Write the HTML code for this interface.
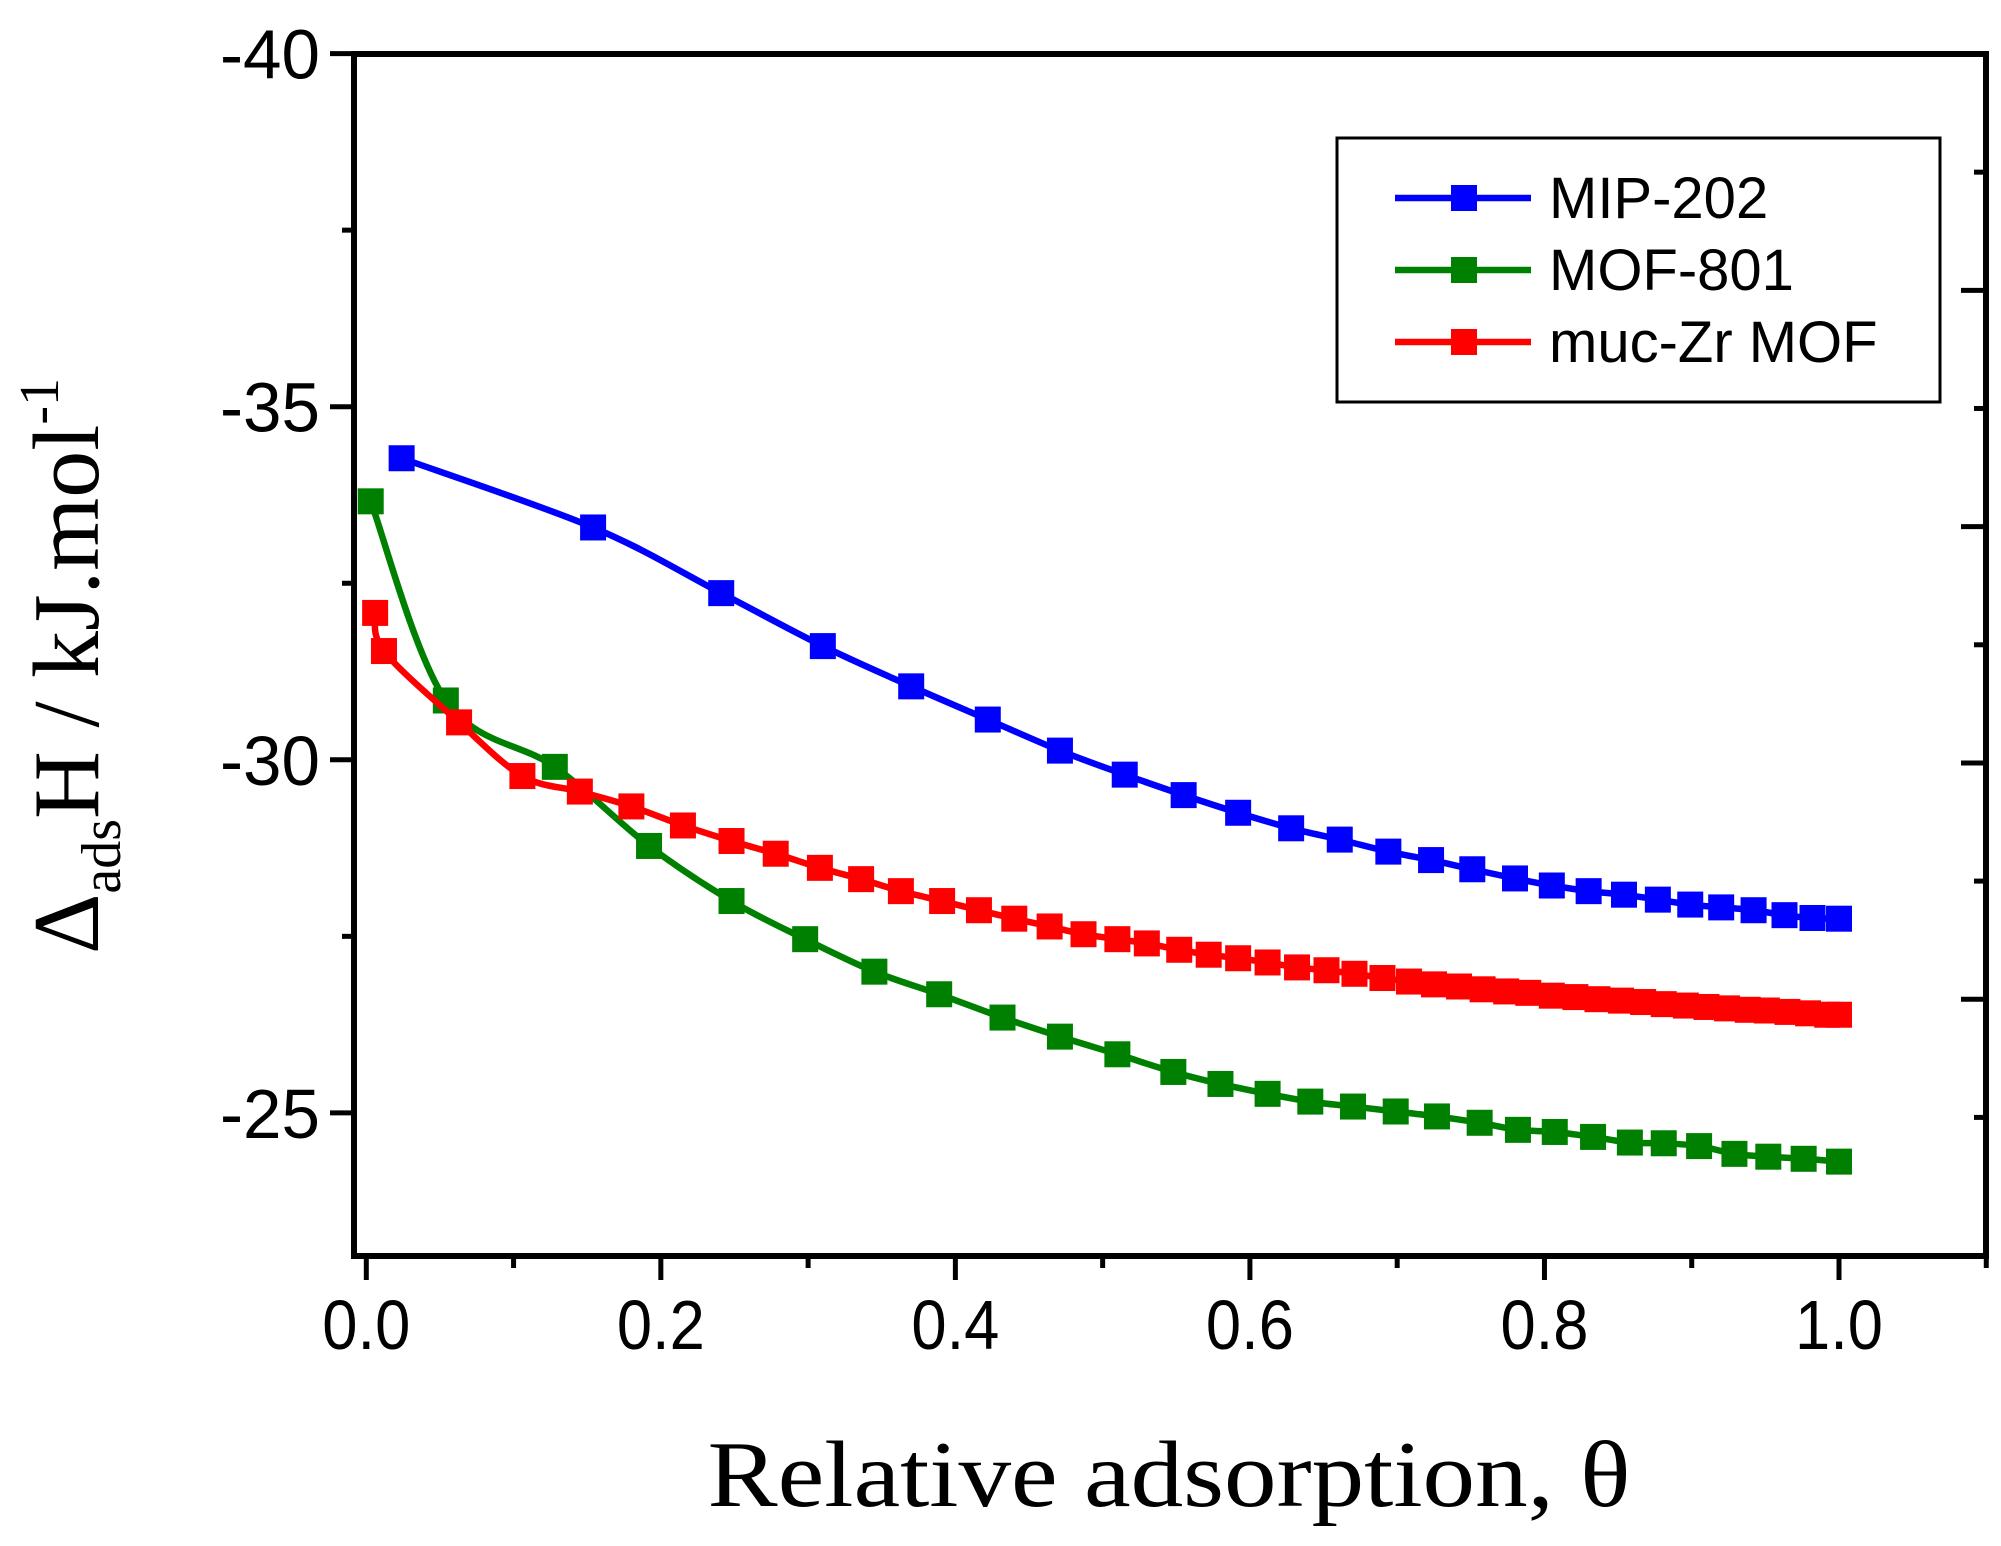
<!DOCTYPE html>
<html><head><meta charset="utf-8"><style>
html,body{margin:0;padding:0;background:#fff;}
svg{display:block;}
</style></head><body>
<svg id="chart" width="2001" height="1546" viewBox="0 0 2001 1546" xmlns="http://www.w3.org/2000/svg"></svg>
<script>
const mipX=[0.024,0.154,0.241,0.310,0.370,0.422,0.471,0.515,0.555,0.592,0.628,0.661,0.694,0.723,0.751,0.780,0.805,0.830,0.854,0.877,0.899,0.920,0.942,0.963,0.982,1.0];
const mipY=[-34.27,-33.29,-32.36,-31.61,-31.04,-30.57,-30.13,-29.79,-29.50,-29.25,-29.03,-28.87,-28.70,-28.58,-28.45,-28.32,-28.22,-28.14,-28.09,-28.02,-27.95,-27.91,-27.87,-27.80,-27.76,-27.75];
const mofX=[0.003,0.054,0.128,0.192,0.248,0.298,0.345,0.389,0.432,0.471,0.510,0.548,0.580,0.612,0.641,0.670,0.699,0.727,0.756,0.782,0.807,0.833,0.858,0.881,0.905,0.929,0.952,0.976,1.0];
const mofY=[-33.66,-30.84,-29.90,-28.78,-28.00,-27.46,-27.00,-26.68,-26.35,-26.08,-25.83,-25.58,-25.41,-25.27,-25.16,-25.09,-25.02,-24.95,-24.86,-24.76,-24.73,-24.66,-24.58,-24.57,-24.53,-24.42,-24.38,-24.35,-24.31];
const mucX=[0.006,0.012,0.063,0.106,0.145,0.180,0.215,0.248,0.278,0.308,0.336,0.363,0.391,0.416,0.440,0.464,0.487,0.510,0.530,0.552,0.572,0.592,0.612,0.632,0.652,0.671,0.690,0.708,0.725,0.742,0.758,0.774,0.789,0.805,0.821,0.836,0.852,0.867,0.881,0.896,0.910,0.924,0.938,0.951,0.965,0.979,0.992,1.0];
const mucY=[-32.08,-31.54,-30.53,-29.77,-29.55,-29.34,-29.07,-28.85,-28.67,-28.47,-28.31,-28.14,-28.00,-27.87,-27.75,-27.64,-27.53,-27.46,-27.40,-27.31,-27.24,-27.19,-27.13,-27.06,-27.02,-26.97,-26.91,-26.86,-26.82,-26.79,-26.75,-26.72,-26.70,-26.66,-26.64,-26.61,-26.59,-26.57,-26.54,-26.52,-26.50,-26.48,-26.46,-26.45,-26.43,-26.41,-26.39,-26.39];
const xTicks=[0,0.2,0.4,0.6,0.8,1.0];
const xTickLabels=["0.0","0.2","0.4","0.6","0.8","1.0"];
const yTicks=[-40,-35,-30,-25];
const yTickLabels=["-40","-35","-30","-25"];

const NS="http://www.w3.org/2000/svg";
const svg=document.getElementById('chart');
const L=354,T=54,R=1986,B=1256;
const sx=v=>366.3+v*1472.7;
const sy=v=>53.6+(v+40)*70.62;
function el(tag,attrs,parent){const e=document.createElementNS(NS,tag);for(const k in attrs)e.setAttribute(k,attrs[k]);(parent||svg).appendChild(e);return e;}

const ticks=el('g',{stroke:'#000','stroke-width':5});


for(let v=0;v<=1.1001;v+=0.1){const x=sx(v);const major=Math.round(v*10)%2===0;el('line',{x1:x,y1:B,x2:x,y2:B+(major?24:12)},ticks);}
for(let v=-40;v<=-24.9;v+=2.5){const y=sy(v);const major=Math.abs(v%5)<0.01;el('line',{x1:L,y1:y,x2:L-(major?24:12),y2:y},ticks);}
for(let k=1;k<=9;k++){const y=T+(B-T)*k*0.0983;el('line',{x1:R,y1:y,x2:R-(k%2===0?25:12),y2:y},ticks);}

const frame=el('rect',{x:L,y:T,width:R-L,height:B-T,fill:'none',stroke:'#000','stroke-width':6});



xTicks.forEach((v,i)=>{const t=el('text',{x:sx(v),y:1349,'text-anchor':'middle','font-family':'Liberation Sans, sans-serif','font-size':70,textLength:88,lengthAdjust:'spacingAndGlyphs'});t.textContent=xTickLabels[i];

});
yTicks.forEach((v,i)=>{const t=el('text',{x:320,y:sy(v)+25,'text-anchor':'end','font-family':'Liberation Sans, sans-serif','font-size':70,textLength:100,lengthAdjust:'spacingAndGlyphs'});t.textContent=yTickLabels[i];

});

const xt=el('text',{x:1169,y:1506,'text-anchor':'middle','font-family':'Liberation Serif, serif','font-size':94,textLength:923,lengthAdjust:'spacingAndGlyphs'});
xt.textContent='Relative adsorption, θ';


const yt=el('text',{transform:'translate(98,666) rotate(-90)','text-anchor':'middle','font-family':'Liberation Serif, serif','font-size':94});


const s1=el('tspan',{},yt);s1.textContent='Δ';
const s2=el('tspan',{'font-size':56,dy:22},yt);s2.textContent='ads';
const s3=el('tspan',{dy:-22},yt);s3.textContent='H / kJ.mol';
const s4=el('tspan',{'font-size':56,dy:-40},yt);s4.textContent='-1';

function pathFor(xs,ys){const p=xs.map((x,i)=>[sx(x),sy(ys[i])]);let d='M'+p[0][0]+','+p[0][1];
for(let i=0;i<p.length-1;i++){const p0=p[i-1]||p[i],p1=p[i],p2=p[i+1],p3=p[i+2]||p2;
d+=` C${p1[0]+(p2[0]-p0[0])/6},${p1[1]+(p2[1]-p0[1])/6} ${p2[0]-(p3[0]-p1[0])/6},${p2[1]-(p3[1]-p1[1])/6} ${p2[0]},${p2[1]}`;}return d;}
function series(xs,ys,color,name){const g=el('g',{});


el('path',{d:pathFor(xs,ys),fill:'none',stroke:color,'stroke-width':6.5},g);
xs.forEach((x,i)=>{const r=el('rect',{x:sx(x)-13,y:sy(ys[i])-13,width:26,height:26,fill:color},g);

});}
series(mofX,mofY,'#008000','series-mof-801');
series(mucX,mucY,'#ff0000','series-muc-zr-mof');
series(mipX,mipY,'#0000ff','series-mip-202');

const lg=el('g',{});


el('rect',{x:1337,y:138,width:603,height:264,fill:'#fff',stroke:'#000','stroke-width':3},lg);
[['MIP-202','#0000ff',198],['MOF-801','#008000',270],['muc-Zr MOF','#ff0000',342]].forEach(([n,c,y])=>{
const e=el('g',{},lg);


el('line',{x1:1395,y1:y,x2:1531,y2:y,stroke:c,'stroke-width':6.5},e);
el('rect',{x:1451,y:y-13,width:26,height:26,fill:c},e);
const t=el('text',{x:1549,y:y+20,'font-family':'Liberation Sans, sans-serif','font-size':58},e);t.textContent=n;});
</script>
</body></html>
